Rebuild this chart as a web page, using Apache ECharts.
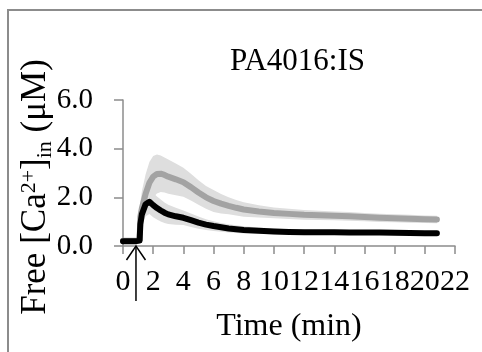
<!DOCTYPE html>
<html><head><meta charset="utf-8">
<script src="https://cdn.jsdelivr.net/npm/echarts@6/dist/echarts.min.js"></script>
<style>html,body{margin:0;padding:0;background:#fff}#c{width:482px;height:352px}</style>
</head><body><div id="c"></div>
<script>
// ---- data (minutes, µM) ----
const time      = [0, 0.25, 0.5, 0.75, 0.9, 1.0, 1.1, 1.15, 1.25, 1.5, 1.75, 2, 2.25, 2.5, 2.75, 3, 3.5, 4, 4.5, 5, 5.5, 6, 6.5, 7, 7.5, 8, 9, 10, 11, 12, 13, 14, 15, 16, 17, 18, 19, 20, 20.8];
const grayMean  = [0.22,0.22,0.22,0.22,0.22,0.22,0.25,1.2,1.55,2.15,2.6,2.85,2.96,2.97,2.92,2.85,2.74,2.62,2.42,2.2,2.0,1.85,1.74,1.65,1.57,1.5,1.42,1.36,1.32,1.28,1.26,1.24,1.22,1.19,1.16,1.14,1.12,1.1,1.09];
const grayErr   = [0.05,0.05,0.05,0.05,0.05,0.05,0.1,0.6,0.7,0.8,0.85,0.85,0.8,0.75,0.72,0.7,0.65,0.6,0.55,0.5,0.47,0.45,0.4,0.35,0.32,0.3,0.25,0.22,0.21,0.2,0.19,0.18,0.18,0.17,0.17,0.16,0.16,0.15,0.15];
const blackMean = [0.2,0.2,0.2,0.2,0.2,0.2,0.22,0.9,1.3,1.72,1.82,1.68,1.56,1.46,1.37,1.3,1.22,1.16,1.06,0.96,0.88,0.82,0.77,0.72,0.69,0.66,0.63,0.6,0.58,0.57,0.56,0.56,0.55,0.55,0.55,0.54,0.53,0.52,0.52];
const blackErr  = [0.05,0.05,0.05,0.05,0.05,0.05,0.08,0.4,0.45,0.5,0.5,0.5,0.47,0.45,0.42,0.4,0.35,0.3,0.28,0.25,0.22,0.2,0.18,0.17,0.16,0.15,0.13,0.12,0.11,0.1,0.1,0.1,0.1,0.09,0.09,0.09,0.08,0.08,0.08];
const arrowTime = 0.86;
const titleText = 'PA4016:IS';
const xName = 'Time (min)';

const FONT = 'Liberation Serif';
const chart = echarts.init(document.getElementById('c'), null, {renderer:'canvas'});

function band(mean, err, color){
  return {
    type:'custom', silent:true, z:1, data:[[0,0]],
    renderItem:(params, api)=>{
      const up=[], lo=[];
      for(let i=0;i<time.length;i++){
        up.push(api.coord([time[i], mean[i]+err[i]]));
        lo.push(api.coord([time[i], mean[i]-err[i]]));
      }
      return {type:'polygon', shape:{points: up.concat(lo.reverse())}, style:{fill:color}};
    }
  };
}
function line(mean, color){
  return {
    type:'line', z:3, showSymbol:false, symbol:'none', animation:false,
    data: time.map((t,i)=>[t, mean[i]]),
    lineStyle:{color, width:6, cap:'round', join:'round'}
  };
}

chart.setOption({
  animation:false,
  backgroundColor:'#fff',
  title:{text:titleText, left:225, top:41, textStyle:{fontFamily:FONT, fontSize:31, fontWeight:'normal', color:'#000'}},
  grid:{left:123, right:27, top:100, bottom:106, containLabel:false},
  xAxis:{
    type:'value', min:0, max:22, interval:2,
    name:xName, nameLocation:'middle', nameGap:65,
    nameTextStyle:{fontFamily:FONT, fontSize:32, color:'#000'},
    axisLine:{show:true, onZero:false, lineStyle:{color:'#8c8c8c', width:1.5}},
    axisTick:{show:true, length:8, lineStyle:{color:'#8c8c8c', width:1.5}},
    axisLabel:{fontFamily:FONT, fontSize:30, color:'#000', margin:21},
    splitLine:{show:false}
  },
  yAxis:{
    type:'value', min:0, max:6, interval:2,
    axisLine:{show:true, lineStyle:{color:'#8c8c8c', width:1.5}},
    axisTick:{show:true, length:9, lineStyle:{color:'#8c8c8c', width:1.5}},
    axisLabel:{fontFamily:FONT, fontSize:29, color:'#000', margin:30, formatter:v=>v.toFixed(1)},
    splitLine:{show:false}
  },
  series:[
    band(grayMean, grayErr, '#dedede'),
    band(blackMean, blackErr, '#dedede'),
    line(grayMean, '#a3a3a3'),
    line(blackMean, '#000000')
  ]
});

const p = chart.convertToPixel({gridIndex:0}, [arrowTime, 0]);
chart.setOption({
  graphic:[
    {type:'rect', silent:true, shape:{x:8, y:10, width:520, height:420}, style:{fill:null, stroke:'#8c8c8c', lineWidth:2}},
    {type:'text', silent:true, x:36, y:187, rotation:Math.PI/2,
      style:{text:'{a|Free [Ca}{sup|2+}{a|]}{sub|in}{a| (μM)}', align:'center', verticalAlign:'middle',
        fontFamily:FONT, fontSize:35, fill:'#000',
        rich:{
          a:{fontFamily:FONT, fontSize:35, fill:'#000', lineHeight:44},
          sup:{fontFamily:FONT, fontSize:22, fill:'#000', verticalAlign:'top', lineHeight:22, padding:[4,0,0,0]},
          sub:{fontFamily:FONT, fontSize:22, fill:'#000', verticalAlign:'bottom', lineHeight:22, padding:[0,0,2,0]}
        }}},
    {type:'polyline', silent:true, z:10, shape:{points:[[p[0]-9.5, p[1]+14],[p[0], p[1]],[p[0]+9.5, p[1]+14]]}, style:{stroke:'#000', lineWidth:1.5, fill:null}},
    {type:'line', silent:true, z:10, shape:{x1:p[0], y1:p[1], x2:p[0], y2:p[1]+55}, style:{stroke:'#000', lineWidth:1.5}}
  ]
});
</script></body></html>
